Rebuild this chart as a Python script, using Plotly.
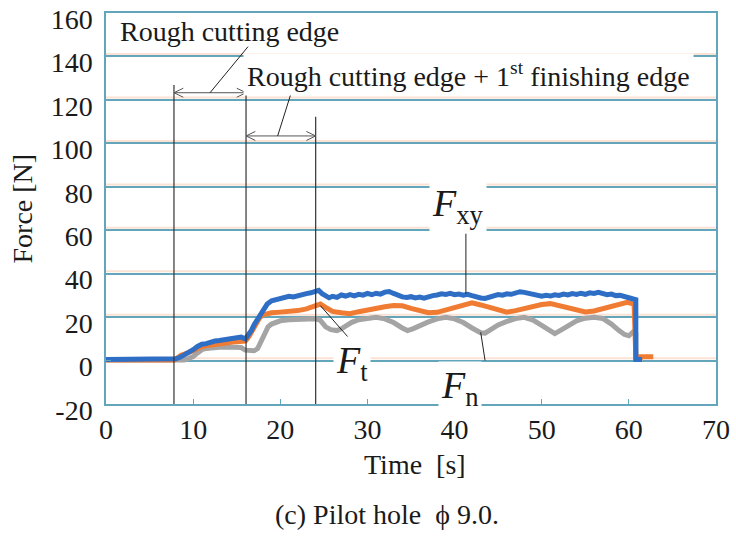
import plotly.graph_objects as go

# ---------------- data ----------------
t_xy = [0, 7.5, 8.0, 8.5, 9.0, 9.5, 10.0, 10.5, 11.0, 11.5, 12.0, 12.5, 13.0, 13.5, 14.0, 14.5, 15.0, 15.5,
        16.0, 16.3, 16.7, 17.0, 17.5, 18.0, 18.5, 19.0, 19.5, 20.0, 20.5, 21.0, 21.5, 22.0, 22.5, 23.0, 23.5,
        24.0, 24.4, 24.8, 25.2, 25.6, 26.0, 26.5, 27.0, 27.5, 28.0, 28.5, 29.0, 29.5, 30.0, 30.5, 31.0, 31.5,
        32.0, 32.5, 33.0, 33.5, 34.0, 34.5, 35.0, 35.5, 36.0, 36.5, 37.0, 37.5, 38.0, 38.5, 39.0, 39.5, 40.0,
        40.5, 41.0, 41.5, 42.0, 42.5, 43.0, 43.5, 44.0, 44.5, 45.0, 45.5, 46.0, 46.5, 47.0, 47.5, 48.0, 48.5,
        49.0, 49.5, 50.0, 50.5, 51.0, 51.5, 52.0, 52.5, 53.0, 53.5, 54.0, 54.5, 55.0, 55.5, 56.0, 56.5, 57.0,
        57.5, 58.0, 58.5, 59.0, 59.5, 60.0, 60.5, 60.8, 60.8, 61.5]
f_xy = [0.5, 0.5, 0.8, 1.5, 2.5, 4.0, 5.0, 6.5, 7.5, 7.8, 8.6, 9.0, 9.2, 9.6, 9.9, 10.3, 10.6, 10.8,
        10.0, 11.5, 14.0, 16.5, 20.0, 23.5, 26.0, 27.5, 28.0, 28.6, 28.9, 29.6, 29.3, 30.0, 30.3, 30.8, 31.2,
        31.9, 32.3, 30.8, 29.5, 28.9, 29.6, 29.1, 30.2, 29.7, 30.4, 29.8, 30.5, 30.1, 30.9, 30.3, 31.0, 30.6,
        31.5, 31.8, 30.9, 30.0, 29.3, 29.0, 29.4, 28.8, 29.2, 28.7, 29.5, 29.9, 30.2, 30.7, 30.4, 30.9, 30.3,
        30.6, 30.1, 30.5, 29.9, 29.2, 28.8, 28.6, 29.3, 29.8, 30.4, 30.1, 30.7, 30.5, 31.2, 31.7, 31.4, 30.8,
        30.2, 29.9, 29.6, 30.0, 29.7, 30.3, 30.0, 30.6, 30.2, 30.8, 30.4, 31.0, 30.5, 31.2, 30.9, 31.4, 30.8,
        30.3, 30.6, 29.9, 30.0, 29.4, 29.0, 28.5, 28.0, 0.5, 0.5]

t_t = [0, 7.8, 8.2, 8.6, 9.0, 9.5, 10.0, 10.5, 11.0, 11.5, 12.0, 12.5, 13.0, 13.5, 14.0, 14.5, 15.0, 15.5,
       16.0, 16.4, 16.8, 17.2, 17.6, 18.0, 18.5, 19.0, 20.0, 21.0, 22.0, 23.0, 24.0, 24.6, 25.2, 26.0, 27.0,
       28.0, 29.0, 30.0, 31.0, 32.0, 33.0, 34.0, 35.0, 36.0, 37.0, 38.0, 39.0, 40.0, 41.0, 42.0, 43.0, 44.0,
       45.0, 46.0, 47.0, 48.0, 49.0, 50.0, 51.0, 52.0, 53.0, 54.0, 55.0, 56.0, 57.0, 58.0, 59.0, 59.8, 60.6,
       60.8, 62.8]
f_t = [0.3, 0.3, 1.2, 2.5, 3.0, 3.5, 4.5, 5.5, 6.5, 6.8, 7.2, 7.5, 7.6, 7.8, 8.2, 8.5, 8.8, 9.2,
       9.0, 11.0, 14.0, 17.0, 19.5, 21.0, 21.6, 22.0, 22.3, 22.6, 23.0, 23.8, 25.0, 26.0, 24.5, 22.6, 22.0,
       21.6, 22.5, 23.4, 24.2, 24.8, 25.3, 25.2, 24.0, 22.8, 22.0, 22.2, 23.2, 24.2, 25.5, 26.6, 25.6, 24.4,
       23.0, 22.3, 23.0, 24.0, 25.0, 25.8, 26.2, 25.3, 24.5, 23.4, 22.4, 22.8, 24.0, 25.0, 26.2, 26.8, 26.0,
       1.8, 1.8]

t_n = [0, 9.0, 9.5, 10.0, 10.5, 11.0, 11.5, 12.0, 13.0, 14.0, 15.0, 15.5, 16.0, 17.0, 17.4, 17.8, 18.2,
       18.6, 19.0, 19.5, 20.0, 21.0, 22.0, 23.0, 24.0, 24.6, 25.2, 25.8, 26.5, 27.0, 27.6, 28.2, 29.0, 30.0,
       31.0, 32.0, 33.0, 34.0, 34.6, 35.2, 36.0, 37.0, 38.0, 39.0, 40.0, 41.0, 42.0, 43.0, 43.5, 44.2, 45.0,
       46.0, 47.0, 48.0, 49.0, 50.0, 51.0, 51.5, 52.2, 53.0, 54.0, 55.0, 56.0, 57.0, 58.0, 58.8, 59.5, 60.0,
       60.5, 60.8, 60.8, 61.6]
f_n = [0.3, 0.3, 1.0, 1.8, 3.5, 5.0, 5.6, 5.9, 6.1, 6.2, 6.2, 6.0, 4.8, 4.5, 5.5, 9.0, 12.5,
       15.5, 16.8, 17.6, 18.3, 18.8, 19.0, 19.2, 19.3, 18.5, 15.5, 14.2, 13.8, 14.6, 16.0, 17.6, 18.8, 19.6,
       19.9, 19.2, 17.5, 15.0, 13.8, 14.6, 16.2, 17.8, 19.2, 19.9, 19.2, 17.5, 15.0, 12.8, 12.6, 14.5, 16.4,
       18.0, 19.3, 19.9, 18.6, 16.2, 13.2, 12.4, 14.0, 16.2, 18.3, 19.5, 19.9, 19.4, 16.8, 14.0, 12.0, 11.4,
       13.2, 12.5, 0.5, 0.5]

x_ticks = [0, 10, 20, 30, 40, 50, 60, 70]
y_ticks = [-20, 0, 20, 40, 60, 80, 100, 120, 140, 160]
y_tick_text = ["-20", "0", "20", "40", "60", "80", "100", "120", "140", "160"]

# stage boundaries (s) and marker heights (N)
stage_times = [7.8, 16.07, 24.06]
stage_tops = [126.9, 126.9, 112.2]
arrow_levels = [123.3, 103.4]

# ---------------- figure ----------------
FONT = "Liberation Serif"
TEAL = "#63a6bc"
X_RANGE = [0, 70]
Y_RANGE = [-20, 160]
W, H = 736, 547
ML, MR, MT, MB = 106, 20, 13, 143
px_per_s = (W - ML - MR) / (X_RANGE[1] - X_RANGE[0])
px_per_n = (H - MT - MB) / (Y_RANGE[1] - Y_RANGE[0])

fig = go.Figure()
fig.add_trace(go.Scatter(x=t_n, y=f_n, mode="lines", name="Fn",
                         line=dict(color="#a4a4a4", width=5)))
fig.add_trace(go.Scatter(x=t_t, y=f_t, mode="lines", name="Ft",
                         line=dict(color="#f07b33", width=5)))
fig.add_trace(go.Scatter(x=t_xy, y=f_xy, mode="lines", name="Fxy",
                         line=dict(color="#2e6ec4", width=5)))

shapes = []
# warm halo just above each gridline (mis-registration look of the original)
for v in y_ticks[1:-1]:
    shapes.append(dict(type="line", xref="x", yref="y", x0=X_RANGE[0], x1=X_RANGE[1],
                       y0=v + 1.1, y1=v + 1.1, layer="below",
                       line=dict(color="#fbe2d4", width=2)))
# vertical stage lines
for tv, top in zip(stage_times, stage_tops):
    shapes.append(dict(type="line", xref="x", yref="y", x0=tv, x1=tv, y0=Y_RANGE[0], y1=top,
                       line=dict(color="#333333", width=1.2)))
# double arrows with open chevron heads
hx = 9.3 / px_per_s
hy = 4.5 / px_per_n
for i, lvl in enumerate(arrow_levels):
    a, b = stage_times[i], stage_times[i + 1]
    shapes.append(dict(type="line", xref="x", yref="y", x0=a, x1=b, y0=lvl, y1=lvl,
                       line=dict(color="#555555", width=1)))
    shapes.append(dict(type="path", xref="x", yref="y",
                       path=f"M {a + hx},{lvl + hy} L {a},{lvl} L {a + hx},{lvl - hy}",
                       line=dict(color="#555555", width=1)))
    shapes.append(dict(type="path", xref="x", yref="y",
                       path=f"M {b - hx},{lvl + hy} L {b},{lvl} L {b - hx},{lvl - hy}",
                       line=dict(color="#555555", width=1)))
# leader lines
leaders = [
    ((stage_times[0] + stage_times[1]) / 2, arrow_levels[0], 16.3, 144.5),
    (19.7, arrow_levels[1], 21.2, 122.6),
    (41.3, 30.8, 41.3, 58.4),
    (24.6, 25.3, 27.8, 10.7),
    (43.0, 13.0, 43.5, 0.0),
]
for x0, y0, x1, y1 in leaders:
    shapes.append(dict(type="line", xref="x", yref="y", x0=x0, y0=y0, x1=x1, y1=y1,
                       line=dict(color="#222222", width=1)))

TXT = dict(family=FONT, size=28, color="#1a1a1a")
BIG = dict(family=FONT, size=38, color="#1a1a1a")
annotations = [
    dict(x=14.2, y=151.3, xref="x", yref="y", text="Rough cutting edge", showarrow=False, font=TXT),
    dict(x=41.6, y=131.7, xref="x", yref="y",
         text="Rough cutting edge + 1<sup>st</sup> finishing edge", showarrow=False,
         bgcolor="white", borderpad=3, font=TXT),
    dict(x=40.4, y=71.3, xref="x", yref="y", text="<i>F</i><sub>xy</sub>", showarrow=False,
         bgcolor="white", borderpad=2, font=BIG),
    dict(x=28.2, y=-1.0, xref="x", yref="y", text="<i>F</i><sub>t</sub>", showarrow=False,
         bgcolor="white", borderpad=2, font=BIG),
    dict(x=40.6, y=-12.5, xref="x", yref="y", text="<i>F</i><sub>n</sub>", showarrow=False,
         bgcolor="white", borderpad=2, font=BIG),
    # axis titles and caption
    dict(x=0, y=0.5, xref="paper", yref="paper", xanchor="center", yanchor="middle",
         xshift=-84, text="Force [N]", textangle=-90, showarrow=False, font=TXT),
    dict(x=0.5, y=0, xref="paper", yref="paper", xanchor="center", yanchor="middle",
         xshift=4, yshift=-60, text="Time\u00a0 [s]", showarrow=False, font=TXT),
    dict(x=0.46, y=0, xref="paper", yref="paper", xanchor="center", yanchor="middle",
         yshift=-110, text="(c) Pilot hole\u00a0 \u03d5 9.0.", showarrow=False, font=TXT),
]

fig.update_layout(
    width=W, height=H,
    margin=dict(l=ML, r=MR, t=MT, b=MB, autoexpand=False),
    paper_bgcolor="white", plot_bgcolor="white",
    showlegend=False,
    shapes=shapes, annotations=annotations,
    xaxis=dict(range=X_RANGE, tickvals=x_ticks, ticks="inside", ticklen=5, tickcolor=TEAL,
               showgrid=False, zeroline=False, showline=True, mirror=True, linecolor=TEAL,
               linewidth=1.5, ticklabelstandoff=0, ticklabeloverflow="allow",
               automargin=False, tickfont=TXT),
    yaxis=dict(range=Y_RANGE, tickvals=y_ticks, ticktext=y_tick_text, ticks="inside",
               ticklen=5, tickcolor=TEAL,
               showgrid=True, gridcolor=TEAL, gridwidth=1.5, zeroline=False,
               showline=True, mirror=True, linecolor=TEAL, linewidth=1.5, ticklabelstandoff=6,
               ticklabelshift=6, ticklabeloverflow="allow", automargin=False, tickfont=TXT),
)

fig.write_html("out.html")
